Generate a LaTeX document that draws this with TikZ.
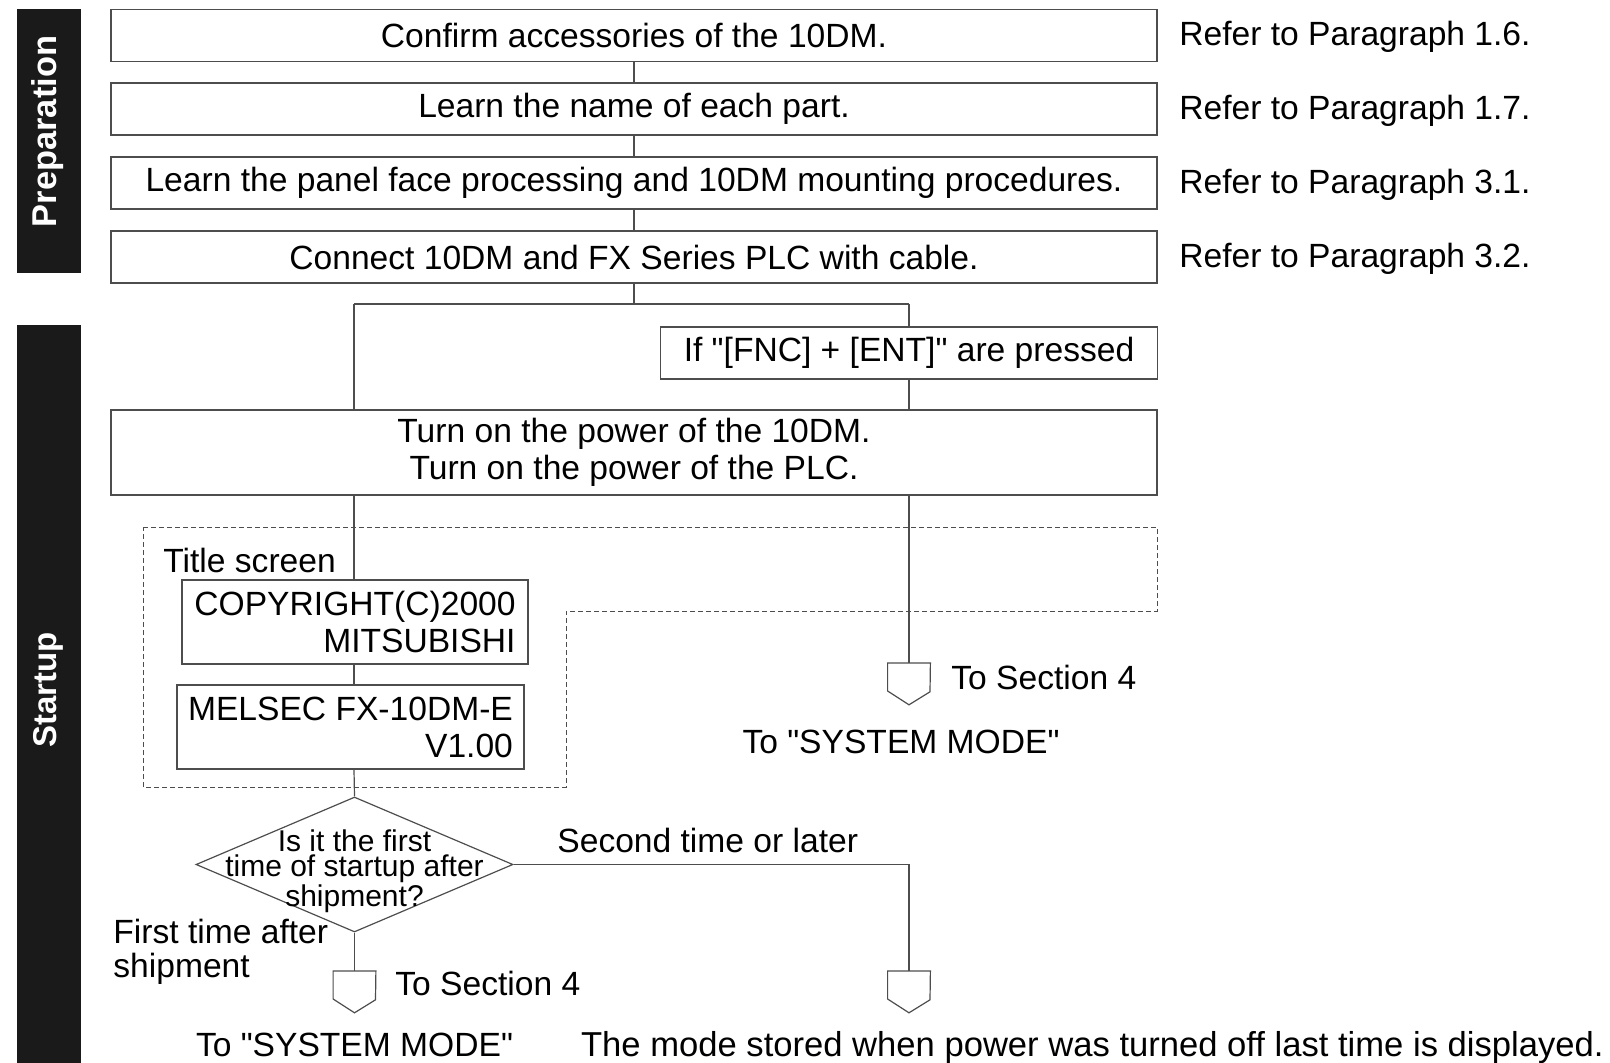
\documentclass[tikz,border=0pt]{standalone}
\usepackage{fontspec}
\setmainfont{Liberation Sans}[Ligatures=TeXOff]
\usetikzlibrary{shapes.geometric}
\definecolor{barfill}{HTML}{1A1A1A}
\definecolor{edge}{HTML}{4D4D4D}

\begin{document}
\begin{tikzpicture}
  [x=0.5pt,y=-0.5pt,
   every node/.style={font=\fontsize{16.8}{17}\selectfont, inner sep=0pt},
   stepbox/.style={draw=edge, line width=0.8pt, minimum width=523pt, minimum height=26pt},
   screen/.style={draw=edge, line width=0.8pt, minimum height=42pt, align=right,
     font=\fontsize{16.8}{18.5}\selectfont},
   decision/.style={diamond, draw=edge, line width=0.6pt, minimum width=158.5pt, minimum height=67.5pt},
   asktext/.style={align=center, font=\fontsize{15}{12.75}\selectfont},
   offpage/.style={anchor=north, minimum width=21pt, minimum height=20.5pt},
   bartext/.style={rotate=90, text=white, font=\fontsize{16.5}{18}\bfseries\selectfont},
   refer/.style={anchor=west},
   link/.style={draw=edge, line width=0.6pt},
   screenarea/.style={draw=edge, line width=0.5pt, dash pattern=on 2.5pt off 1.5pt}]
  \useasboundingbox (0,0) rectangle (1610,1063);

  % side bars
  \fill[barfill] (17,9) rectangle (81,273);
  \fill[barfill] (17,325) rectangle (81,1063);
  \node[bartext, font=\fontsize{17.2}{18}\bfseries\selectfont] (prep) at (48,131.5) {Preparation};
  \node[bartext] (start) at (48,690) {Startup};

  % preparation
  \node[stepbox] (s1) at (634,35.5) {Confirm accessories of the 10DM.};
  \node[stepbox] (s2) at (634,109) {Learn the name of each part.};
  \node[stepbox] (s3) at (634,183) {Learn the panel face processing and 10DM mounting procedures.};
  \node[stepbox] (s4) at (634,257) {Connect 10DM and FX Series PLC with cable.};
  \node[refer] (r1) at (1179,37) {Refer to Paragraph 1.6.};
  \node[refer] (r2) at (1179,111) {Refer to Paragraph 1.7.};
  \node[refer] (r3) at (1179,185) {Refer to Paragraph 3.1.};
  \node[refer] (r4) at (1179,259) {Refer to Paragraph 3.2.};

  % startup
  \coordinate (jl) at (354,304);
  \coordinate (jr) at (909,304);
  \node[stepbox, minimum width=248.5pt] (fnc) at (909,353) {If "[FNC] + [ENT]" are pressed};
  \node[stepbox, minimum height=42.5pt, align=center, font=\fontsize{16.8}{18.5}\selectfont] (power) at (634,452.5)
    {Turn on the power of the 10DM.\\Turn on the power of the PLC.};

  \draw[screenarea] (143,527) -- (1157,527) -- (1157,611) -- (566,611) -- (566,787) -- (143,787) -- cycle;
  \node[anchor=west] (title) at (163,560) {Title screen};
  \node[screen, minimum width=173pt] (copy) at (355,622) {COPYRIGHT(C)2000\\MITSUBISHI};
  \node[screen, minimum width=173.5pt] (mel) at (350.5,727) {MELSEC FX-10DM-E\\V1.00};

  \node[decision] (ask) at (354.5,864.5) {};
  \node[asktext] (asklbl) at (354.5,871) {Is it the first\\time of startup after\\shipment?};
  \node[anchor=west] (second) at (557,840) {Second time or later};
  \node[anchor=west, align=left] (first) at (113,952) {First time after\\shipment};

  \node[offpage] (toA) at (909,663) {};
  \node[offpage] (toB) at (354.5,971) {};
  \node[offpage] (toC) at (909,971) {};
  \foreach \c in {toA,toB,toC}
    \draw[link] (\c.north west) -- ++(0,28) -- (\c.south) -- ++(21,-13) -- (\c.north east) -- cycle;

  \node[anchor=west] (secA) at (951,677) {To Section 4};
  \node (sysA) at (901,742) {To "SYSTEM MODE"};
  \node[anchor=west] (secB) at (395,983) {To Section 4};
  \node[anchor=base] (sysB) at (354.5,1056) {To "SYSTEM MODE"};
  \node[anchor=base east, font=\fontsize{17.3}{18}\selectfont] (keep) at (1604,1056)
    {The mode stored when power was turned off last time is displayed.};

  % connectors
  \foreach \from/\to in {s1/s2,s2/s3,s3/s4}
    \draw[link] (\from) -- (\to);
  \draw[link] (s4) -- (s4 |- jl);
  \draw[link] (jl) -- (jr);
  \draw[link] (jl) -- (jl |- power.north);
  \draw[link] (jr) -- (fnc);
  \draw[link] (fnc) -- (fnc |- power.north);
  \draw[link] (jl |- power.south) -- (jl |- copy.north);
  \draw[link] (jl |- copy.south) -- (jl |- mel.north);
  \draw[link] (jl |- mel.south) -- (ask.north);
  \draw[link] (jr |- power.south) -- (toA);
  \draw[link] (ask) -- (toB);
  \draw[link] (ask.east) -| (toC);
\end{tikzpicture}
\end{document}
